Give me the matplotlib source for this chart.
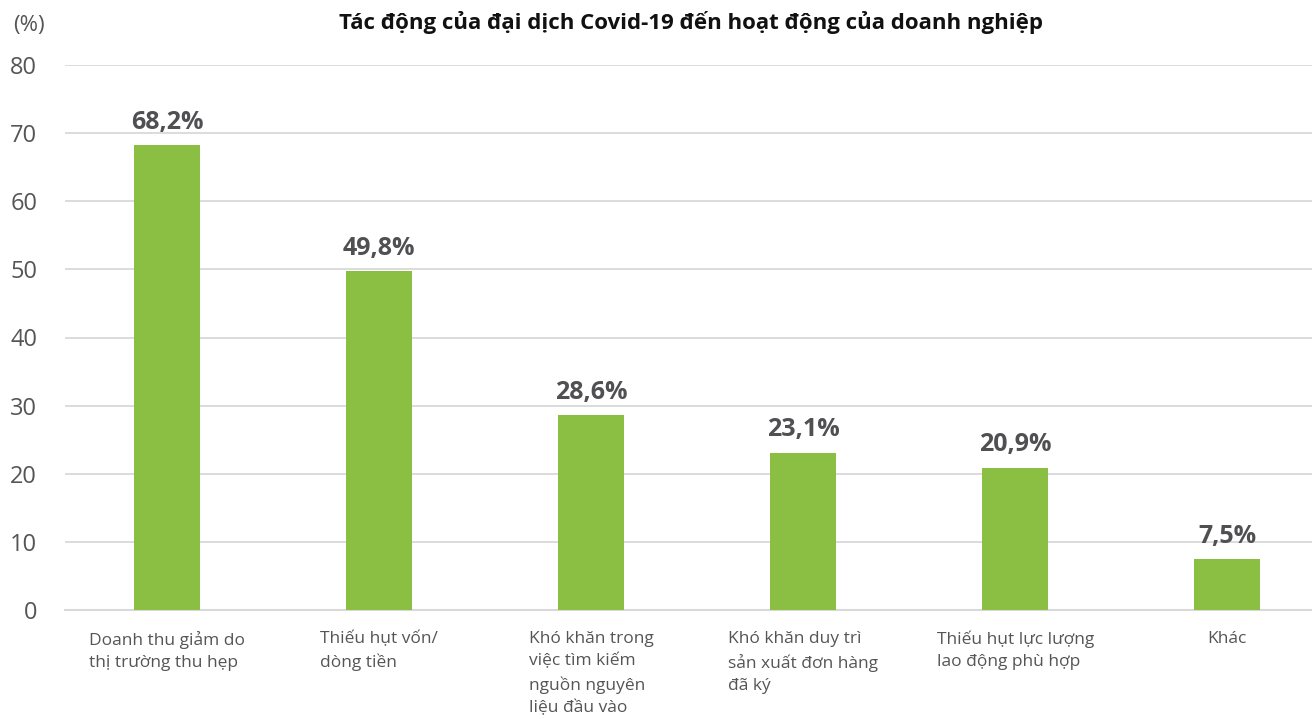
import matplotlib.pyplot as plt

categories = ['Doanh thu giảm do\nthị trường thu hẹp',
              'Thiếu hụt vốn/\ndòng tiền',
              'Khó khăn trong\nviệc tìm kiếm\nnguồn nguyên\nliệu đầu vào',
              'Khó khăn duy trì\nsản xuất đơn hàng\nđã ký',
              'Thiếu hụt lực lượng\nlao động phù hợp',
              'Khác']
values = [68.2, 49.8, 28.6, 23.1, 20.9, 7.5]
labels = ['68,2%', '49,8%', '28,6%', '23,1%', '20,9%', '7,5%']
yticks = [0, 10, 20, 30, 40, 50, 60, 70, 80]

plt.rcParams['font.family'] = ['Open Sans', 'DejaVu Sans']

fig = plt.figure(figsize=(13.12, 7.19), dpi=100)
ax = fig.add_axes([65 / 1312, 109 / 719, 1247 / 1312, 545 / 719])

x = list(range(len(values)))
ax.bar(x, values, width=0.31, color='#8abf43', zorder=3)
for xi, v, lab in zip(x, values, labels):
    ax.text(xi, v + 1.5, lab, ha='center', va='bottom', fontsize=18,
            fontweight='bold', color='#505053')

ax.set_xlim(-0.481, 5.40)
ax.set_ylim(0, 80)
ax.set_yticks(yticks)
ax.set_yticklabels([str(t) for t in yticks], fontsize=17, color='#555555')
ax.yaxis.grid(True, color='#d9d9d9', linewidth=1.3, zorder=0)
ax.tick_params(axis='y', length=0, pad=20)
ax.tick_params(axis='x', length=0, pad=15)
ax.set_xticks(x)
ax.set_xticklabels(categories, fontsize=12.5, color='#555555',
                   va='top', multialignment='left', linespacing=1.5)

for s in ['top', 'right', 'left']:
    ax.spines[s].set_visible(False)
ax.spines['bottom'].set_color('#d9d9d9')
ax.spines['bottom'].set_linewidth(1.5)

fig.text(29 / 1312, 1 - 25 / 719, '(%)', ha='center', va='center',
         fontsize=16, color='#555555')
fig.text(691 / 1312, 1 - 22 / 719,
         'Tác động của đại dịch Covid-19 đến hoạt động của doanh nghiệp',
         ha='center', va='center', fontsize=16, fontweight='bold', color='#111111')

fig.savefig('out.png', dpi=100)
